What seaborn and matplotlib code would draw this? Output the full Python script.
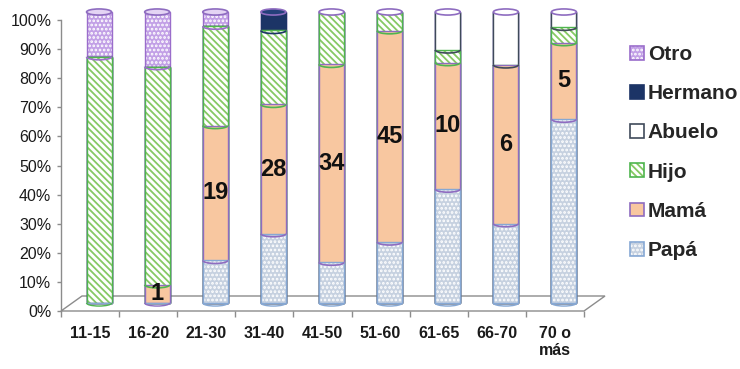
import matplotlib
matplotlib.use("Agg")
import numpy as np
import pandas as pd
import matplotlib.pyplot as plt
import seaborn as sns
from matplotlib.patches import Patch, Ellipse, Arc, Polygon
from matplotlib.transforms import ScaledTranslation

# Counts of respondents per age group, by relationship
categories = ["11-15", "16-20", "21-30", "31-40", "41-50", "51-60", "61-65", "66-70", "70 o\nmás"]
papa    = [0, 0, 6, 15, 7, 13, 9, 3, 12]
mama    = [0, 1, 19, 28, 34, 45, 10, 6, 5]
hijo    = [11, 12, 14, 16, 9, 4, 1, 0, 1]
abuelo  = [0, 0, 0, 0, 0, 0, 3, 2, 1]
hermano = [0, 0, 0, 4, 0, 0, 0, 0, 0]
otro    = [2, 3, 2, 0, 0, 0, 0, 0, 0]
series_names = ["Papá", "Mamá", "Hijo", "Abuelo", "Hermano", "Otro"]
y_ticks = [0, 10, 20, 30, 40, 50, 60, 70, 80, 90, 100]

sns.set_theme(style="white")
plt.rcParams["font.family"] = ["Liberation Sans", "DejaVu Sans"]
plt.rcParams["hatch.linewidth"] = 1.3

counts = pd.DataFrame({"Papá": papa, "Mamá": mama, "Hijo": hijo,
                       "Abuelo": abuelo, "Hermano": hermano, "Otro": otro},
                      index=categories)
pct = counts.div(counts.sum(axis=1), axis=0) * 100
cum = pct.cumsum(axis=1)

styles = {
    "Papá":    dict(face="#C6D1E0", hatch="....", hcol="#FFFFFF", edge="#86A8D4", cap="#E6ECF3"),
    "Mamá":    dict(face="#F8C7A0", hatch=None,   hcol="#F8C7A0", edge="#8E6CC0", cap="#FBDCC2"),
    "Hijo":    dict(face="#FFFFFF", hatch="\\\\\\\\\\", hcol="#86C964", edge="#4FB54F", cap="#FFFFFF"),
    "Abuelo":  dict(face="#FFFFFF", hatch=None,   hcol="#FFFFFF", edge="#3F4A5A", cap="#FFFFFF"),
    "Hermano": dict(face="#1C3466", hatch=None,   hcol="#1C3466", edge="#1C3466", cap="#24407A"),
    "Otro":    dict(face="#C2A0E6", hatch="....", hcol="#FFFFFF", edge="#9A6DCB", cap="#E4D4F4"),
}

fig = plt.figure(figsize=(7.4, 3.69), dpi=100)
ax = fig.add_axes([61 / 740, 58 / 369, 523 / 740, 291 / 369])

bar_w = 0.43
# stacked columns: draw cumulative totals from the top series down
for name in reversed(series_names):
    st = styles[name]
    sns.barplot(x=categories, y=cum[name].values, order=categories, color=st["face"],
                hatch=st["hatch"], edgecolor=st["hcol"], linewidth=0, width=bar_w,
                saturation=1, errorbar=None, ax=ax)
    sns.barplot(x=categories, y=cum[name].values, order=categories, color=st["edge"],
                fill=False, linewidth=1.0, width=bar_w, saturation=1,
                errorbar=None, ax=ax)

ax.set_xlim(-0.5, len(categories) - 0.5)
ax.set_ylim(0, 100)

# columns sit in the middle of the floor depth
depth = ScaledTranslation(9 / 100, 8 / 100, fig.dpi_scale_trans)
bar_tr = ax.transData + depth
for p in ax.patches:
    p.set_transform(bar_tr)
    p.set_clip_on(False)

# cylinder rims: boundaries between segments, base and top cap
ell_h = 2.1
for i, cat in enumerate(categories):
    present = [n for n in series_names if pct.loc[cat, n] > 0]
    lowest = styles[present[0]]
    base = Arc((i, 0), bar_w, ell_h, theta1=180, theta2=360,
               edgecolor=lowest["edge"], linewidth=1.0, transform=bar_tr, clip_on=False)
    ax.add_patch(base)
    for k in range(len(present) - 1):
        upper = styles[present[k + 1]]
        y = cum.loc[cat, present[k]]
        ax.add_patch(Arc((i, y), bar_w, ell_h, theta1=180, theta2=360,
                         edgecolor=upper["edge"], linewidth=1.2,
                         transform=bar_tr, clip_on=False, zorder=3))
    top = styles[present[-1]]
    ax.add_patch(Ellipse((i, 100), bar_w, ell_h, facecolor=top["cap"],
                         edgecolor="#8E6CC0", linewidth=1.2,
                         transform=bar_tr, clip_on=False, zorder=3))

# value labels for the Mamá segment
for i, cat in enumerate(categories):
    if mama[i] > 0:
        ymid = cum.loc[cat, "Papá"] + pct.loc[cat, "Mamá"] / 2
        ax.text(i, ymid, str(mama[i]), ha="center", va="center", fontsize=17,
                fontweight="bold", color="#111111", transform=bar_tr, zorder=4)

# floor of the 3-D plot area
floor = Polygon([(0, 0), (1, 0), (1 + 21 / 523, 15 / 291), (21 / 523, 15 / 291)],
                closed=True, facecolor="none", edgecolor="#8C8C8C", linewidth=1.0,
                transform=ax.transAxes, clip_on=False, zorder=0.5)
ax.add_patch(floor)

for s in ["top", "right", "bottom"]:
    ax.spines[s].set_visible(False)
ax.spines["left"].set_color("#8C8C8C")
ax.spines["left"].set_linewidth(1.0)

ax.set_yticks(y_ticks)
ax.set_yticklabels([f"{t}%" for t in y_ticks], fontsize=11.5, color="#1A1A1A")
ax.tick_params(axis="y", left=True, length=3, width=1, color="#8C8C8C", pad=4)

ax.set_xticks(range(len(categories)))
ax.set_xticklabels(categories, fontsize=11.5, fontweight="bold", color="#1A1A1A",
                   linespacing=1.15, va="top")
ax.set_xticks(np.arange(-0.5, len(categories), 1.0), minor=True)
ax.tick_params(axis="x", which="major", bottom=False, length=0, pad=11)
ax.tick_params(axis="x", which="minor", bottom=True, length=4, width=1, color="#8C8C8C")
ax.set_xlabel("")
ax.set_ylabel("")
ax.grid(False)

# legend keys: patterned fill overlaid with the series outline
handles = []
labels = []
for name in reversed(series_names):
    st = styles[name]
    fill_key = Patch(facecolor=st["face"], edgecolor=st["hcol"], hatch=st["hatch"],
                     linewidth=0)
    edge_key = Patch(facecolor="none", edgecolor=st["edge"], linewidth=1.2)
    handles.append((fill_key, edge_key))
    labels.append(name)
fig.legend(handles=handles, labels=labels, loc="upper left",
           bbox_to_anchor=(630 / 740, 1 - 45 / 369),
           bbox_transform=fig.transFigure, frameon=False, prop=dict(size=15, weight="bold"),
           handlelength=0.65, handleheight=0.65, handletextpad=0.2, labelspacing=0.97,
           borderpad=0, borderaxespad=0)

fig.savefig("out.png", dpi=100)
